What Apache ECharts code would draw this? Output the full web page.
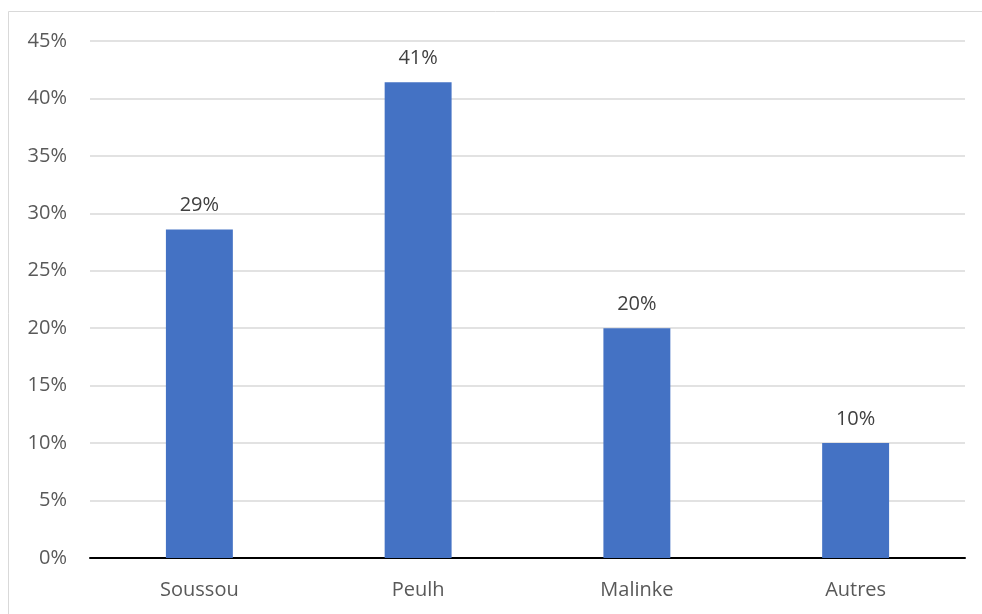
<!DOCTYPE html>
<html>
<head>
<meta charset="utf-8">
<script src="https://cdn.jsdelivr.net/npm/echarts@6/dist/echarts.min.js"></script>
<style>
  html, body { margin: 0; padding: 0; background: #fff; }
  #chart { width: 982px; height: 614px; }
</style>
</head>
<body>
<div id="chart"></div>
<script>
// Share of each group, in percent
const categories = ['Soussou', 'Peulh', 'Malinke', 'Autres'];
const shares = [28.6, 41.4, 20, 10];
const yTicks = [0, 5, 10, 15, 20, 25, 30, 35, 40, 45];

const FONT = '"Open Sans", "Noto Sans", sans-serif';

const chart = echarts.init(document.getElementById('chart'));
chart.setOption({
  animation: false,
  backgroundColor: '#ffffff',
  graphic: [{
    type: 'rect',
    shape: { x: 8.5, y: 11.5, width: 1000, height: 700 },
    style: { fill: 'none', stroke: '#d9d9d9', lineWidth: 1 },
    silent: true
  }],
  grid: { left: 90, right: 17, top: 41, bottom: 56 },
  xAxis: {
    type: 'category',
    data: categories,
    axisLine: { lineStyle: { color: '#000000', width: 2 } },
    axisTick: { show: false },
    axisLabel: { color: '#595959', fontFamily: FONT, fontSize: 20, margin: 22 }
  },
  yAxis: {
    type: 'value',
    min: yTicks[0],
    max: yTicks[yTicks.length - 1],
    interval: yTicks[1] - yTicks[0],
    axisLine: { show: false },
    axisTick: { show: false },
    splitLine: { lineStyle: { color: '#d9d9d9', width: 1.5 } },
    axisLabel: {
      color: '#595959', fontFamily: FONT, fontSize: 20, margin: 23,
      formatter: v => v + '%'
    }
  },
  series: [{
    type: 'bar',
    data: shares,
    barWidth: '30.6%',
    itemStyle: { color: '#4472c4' },
    label: {
      show: true,
      position: 'top',
      distance: 14,
      color: '#404040',
      fontFamily: FONT,
      fontSize: 20,
      formatter: p => Math.round(p.value) + '%'
    }
  }]
});
</script>
</body>
</html>
